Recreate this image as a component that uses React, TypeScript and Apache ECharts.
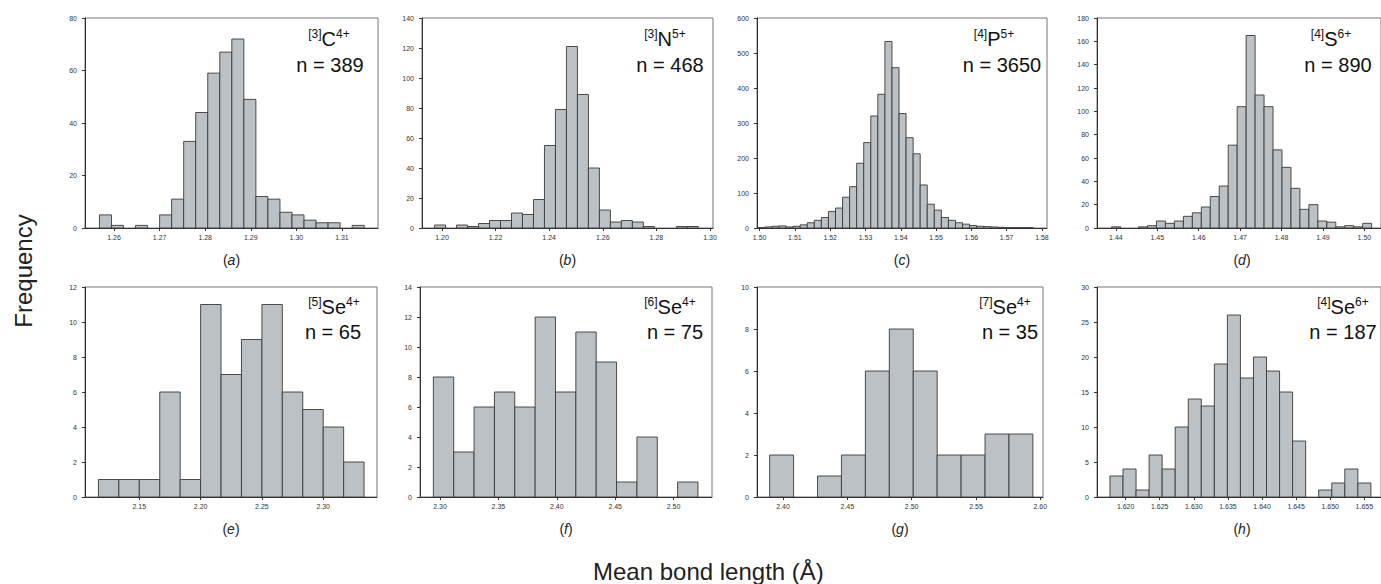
import React, { useEffect, useRef } from 'react';
import * as echarts from 'echarts';

const FONT = '"Liberation Sans", Arial, Helvetica, sans-serif';

// ---------- data (bin start, bin width, counts, x range, tick labels) ----------
// (a) [3]C4+
const aCounts = [5, 1, 0, 1, 0, 5, 11, 33, 44, 59, 67, 72, 49, 12, 11, 6, 5, 3, 2, 2, 0, 1];
const aBin = [1.2568, 0.00264];
const aRange = [1.25363, 1.31791];
const aTicks = [1.26, 1.27, 1.28, 1.29, 1.3, 1.31];
// (b) [3]N5+
const bCounts = [2, 0, 2, 1, 3, 5, 5, 10, 9, 19, 55, 79, 121, 89, 40, 12, 4, 5, 4, 1, 0, 0, 1, 1];
const bBin = [1.19724, 0.0041];
const bRange = [1.19255, 1.30112];
const bTicks = [1.2, 1.22, 1.24, 1.26, 1.28, 1.3];
// (c) [4]P5+
const cCounts = [1, 3, 5, 6, 3, 5, 9, 15, 22, 30, 47, 57, 88, 118, 185, 244, 320, 382, 533, 458, 327, 258, 212, 123, 68, 51, 30, 22, 15, 11, 7, 5, 4, 3, 2, 1, 1, 1, 1, 0];
const cBin = [1.4995, 0.002];
const cRange = [1.49926, 1.58143];
const cTicks = [1.5, 1.51, 1.52, 1.53, 1.54, 1.55, 1.56, 1.57, 1.58];
// (d) [4]S6+
const dCounts = [1, 0, 0, 1, 2, 6, 4, 6, 10, 13, 18, 27, 36, 71, 104, 165, 114, 104, 67, 52, 34, 16, 20, 6, 5, 1, 2, 1, 4];
const dBin = [1.43898, 0.002165];
const dRange = [1.43544, 1.50402];
const dTicks = [1.44, 1.45, 1.46, 1.47, 1.48, 1.49, 1.5];
// (e) [5]Se4+
const eCounts = [1, 1, 1, 6, 1, 11, 7, 9, 11, 6, 5, 4, 2];
const eBin = [2.11667, 0.016667];
const eRange = [2.10571, 2.34388];
const eTicks = [2.15, 2.2, 2.25, 2.3];
// (f) [6]Se4+
const fCounts = [8, 3, 6, 7, 6, 12, 7, 11, 9, 1, 4, 0, 1];
const fBin = [2.2943, 0.01743];
const fRange = [2.28286, 2.53288];
const fTicks = [2.3, 2.35, 2.4, 2.45, 2.5];
// (g) [7]Se4+
const gCounts = [2, 0, 1, 2, 6, 8, 6, 2, 2, 3, 3];
const gBin = [2.38965, 0.0186];
const gRange = [2.37981, 2.6021];
const gTicks = [2.4, 2.45, 2.5, 2.55, 2.6];
// (h) [4]Se6+
const hCounts = [3, 4, 1, 6, 4, 10, 14, 13, 19, 26, 17, 20, 18, 15, 8, 0, 1, 2, 4, 2];
const hBin = [1.6177, 0.001913];
const hRange = [1.6158, 1.65744];
const hTicks = [1.62, 1.625, 1.63, 1.635, 1.64, 1.645, 1.65, 1.655];

const yMaxes = [80, 140, 600, 180, 12, 14, 10, 30];
const ySteps = [20, 20, 100, 20, 2, 2, 2, 5];
const decimals = [2, 2, 2, 2, 2, 2, 2, 3];
const letters = ['a', 'b', 'c', 'd', 'e', 'f', 'g', 'h'];
const ionCN = ['3', '3', '4', '4', '5', '6', '7', '4'];
const ionEl = ['C', 'N', 'P', 'S', 'Se', 'Se', 'Se', 'Se'];
const ionCharge = ['4+', '5+', '5+', '6+', '4+', '4+', '4+', '6+'];
const nValues = [389, 468, 3650, 890, 65, 75, 35, 187];

const allCounts = [aCounts, bCounts, cCounts, dCounts, eCounts, fCounts, gCounts, hCounts];
const allBins = [aBin, bBin, cBin, dBin, eBin, fBin, gBin, hBin];
const allRanges = [aRange, bRange, cRange, dRange, eRange, fRange, gRange, hRange];
const allTicks = [aTicks, bTicks, cTicks, dTicks, eTicks, fTicks, gTicks, hTicks];

// ---------- layout (pixels) ----------
const gridBoxes = [
  [85, 18, 293, 210],
  [422, 18, 291, 210],
  [757, 18, 290, 210],
  [1097, 18, 290, 210],
  [85, 287, 292, 210],
  [420, 287, 292, 210],
  [757, 287, 286, 210],
  [1097, 287, 290, 210],
];
const labelX = [329, 665, 994, 1331, 334, 670, 1005, 1343];
const nX = [330, 670, 1002, 1338, 333, 675, 1010, 1343];

const BAR_FILL = '#bcc1c5';
const BAR_STROKE = '#3a3a3a';

export default function App() {
  const ref = useRef<HTMLDivElement>(null);
  useEffect(() => {
    if (!ref.current) return;
    const chart = echarts.init(ref.current, undefined, { renderer: 'svg' });

    const grid: any[] = [];
    const xAxis: any[] = [];
    const yAxis: any[] = [];
    const series: any[] = [];
    const graphic: any[] = [];

    for (let i = 0; i < 8; i++) {
      const [l, t, w, h] = gridBoxes[i];
      grid.push({
        left: l, top: t, width: w, height: h,
        show: true, borderColor: '#777', borderWidth: 1, backgroundColor: 'transparent',
        containLabel: false,
      });
      const dec = decimals[i];
      xAxis.push({
        type: 'value', gridIndex: i,
        min: allRanges[i][0], max: allRanges[i][1],
        splitLine: { show: false },
        axisLine: { show: true, onZero: false, lineStyle: { color: '#333', width: 1 } },
        axisTick: { show: true, length: 3, customValues: allTicks[i], lineStyle: { color: '#333' } },
        axisLabel: {
          show: true, customValues: allTicks[i], fontSize: 7, color: '#333', fontFamily: FONT, margin: 6,
          formatter: (v: number) => v.toFixed(dec),
        },
      });
      yAxis.push({
        type: 'value', gridIndex: i, min: 0, max: yMaxes[i], interval: ySteps[i],
        splitLine: { show: false },
        axisLine: { show: true, lineStyle: { color: '#333', width: 1 } },
        axisTick: { show: true, length: 3, lineStyle: { color: '#333' } },
        axisLabel: { fontSize: 7, color: '#333', fontFamily: FONT, margin: 8 },
      });
      const [start, width] = allBins[i];
      const data = allCounts[i].map((c, k) => [start + k * width, start + (k + 1) * width, c]);
      series.push({
        type: 'custom', xAxisIndex: i, yAxisIndex: i, clip: true,
        encode: { x: [0, 1], y: 2 },
        data,
        renderItem: (params: any, api: any) => {
          const x0 = api.value(0);
          const x1 = api.value(1);
          const c = api.value(2);
          if (!c) return null;
          const p0 = api.coord([x0, c]);
          const p1 = api.coord([x1, 0]);
          return {
            type: 'rect',
            shape: { x: p0[0], y: p0[1], width: p1[0] - p0[0], height: p1[1] - p0[1] },
            style: { fill: BAR_FILL, stroke: BAR_STROKE, lineWidth: 0.9 },
          };
        },
      });

      const topRow = i < 4;
      const labelY = topRow ? 39 : 307;
      const nY = topRow ? 65 : 332;
      graphic.push({
        type: 'text', x: labelX[i], y: labelY,
        style: {
          text: `{s|[${ionCN[i]}]}{b|${ionEl[i]}}{s|${ionCharge[i]}}`,
          align: 'center', verticalAlign: 'middle', fill: '#111', fontFamily: FONT,
          rich: {
            s: { fontSize: 12, lineHeight: 14, verticalAlign: 'top', fontFamily: FONT, fill: '#111' },
            b: { fontSize: 20, lineHeight: 22, fontFamily: FONT, fill: '#111' },
          },
        },
      });
      graphic.push({
        type: 'text', x: nX[i], y: nY,
        style: {
          text: `n = ${nValues[i]}`, fontSize: 20, fontFamily: FONT, fill: '#111',
          align: 'center', verticalAlign: 'middle',
        },
      });
      graphic.push({
        type: 'text', x: l + w / 2, y: topRow ? 260 : 529,
        style: {
          text: `{p|(}{i|${letters[i]}})`.replace('})', '}{p|)}'),
          align: 'center', verticalAlign: 'middle', fontFamily: FONT,
          rich: {
            p: { fontSize: 14, fontFamily: FONT, fill: '#222' },
            i: { fontSize: 14, fontFamily: FONT, fontStyle: 'italic', fill: '#222' },
          },
        },
      });
    }

    graphic.push({
      type: 'text', x: 23, y: 271, rotation: Math.PI / 2,
      style: { text: 'Frequency', fontSize: 24, fontFamily: FONT, fill: '#222', align: 'center', verticalAlign: 'middle' },
    });
    graphic.push({
      type: 'text', x: 593, y: 571,
      style: { text: 'Mean bond length (Å)', fontSize: 24, fontFamily: FONT, fill: '#222', align: 'left', verticalAlign: 'middle' },
    });

    chart.setOption({
      animation: false,
      backgroundColor: '#ffffff',
      grid, xAxis, yAxis, series, graphic,
    });
    return () => chart.dispose();
  }, []);

  return (
    <div
      ref={ref}
      style={{ position: 'fixed', left: 0, top: 0, width: 1381, height: 584, background: '#fff' }}
    />
  );
}
